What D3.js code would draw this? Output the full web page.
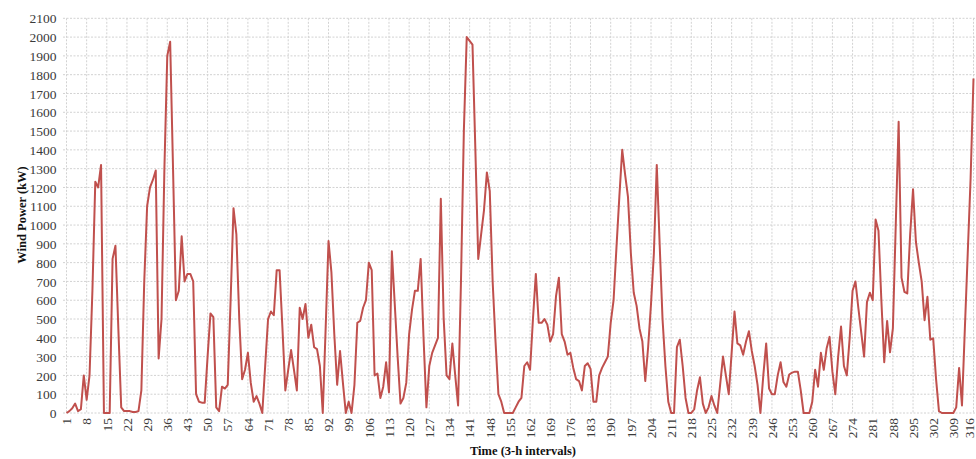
<!DOCTYPE html>
<html>
<head>
<meta charset="utf-8">
<script src="https://cdn.jsdelivr.net/npm/d3@7"></script>
<style>
  html, body { margin: 0; padding: 0; background: #ffffff; }
  svg { display: block; }
  text { font-family: "Liberation Serif", "Times New Roman", serif; }
</style>
</head>
<body>
<svg id="chart" width="976" height="459"></svg>
<script>
// Wind power output, one reading per 3-hour interval (kW)
const windPower = [
  0, 10, 25, 50, 10, 20, 200, 70, 200, 650,
  1230, 1200, 1320, 0, 0, 0, 820, 890, 450, 30,
  10, 10, 10, 5, 5, 10, 120, 700, 1100, 1200,
  1240, 1290, 290, 500, 1300, 1900, 1975, 1300, 600, 650,
  940, 700, 740, 740, 700, 100, 60, 55, 55, 300,
  530, 510, 30, 10, 140, 130, 150, 600, 1090, 950,
  500, 180, 230, 320, 160, 60, 90, 50, 0, 250,
  500, 540, 520, 760, 760, 450, 120, 230, 335, 230,
  120, 560, 500, 580, 400, 470, 350, 340, 250, 0,
  450, 915, 750, 420, 150, 330, 160, 0, 60, 0,
  150, 480, 490, 560, 600, 800, 760, 200, 210, 80,
  140, 270, 110, 860, 580, 300, 50, 80, 160, 420,
  550, 650, 650, 820, 400, 30, 250, 320, 360, 400,
  1140, 500, 200, 180, 370, 200, 40, 700, 1500, 2000,
  1980, 1960, 1400, 820, 950, 1080, 1280, 1180, 700, 380,
  100, 60, 0, 0, 0, 0, 30, 60, 80, 250,
  270, 230, 500, 740, 480, 480, 500, 470, 380, 420,
  620, 720, 420, 380, 310, 320, 240, 180, 170, 120,
  250, 265, 235, 60, 60, 200, 240, 270, 300, 480,
  600, 880, 1150, 1400, 1270, 1150, 850, 640, 570, 450,
  380, 170, 350, 580, 850, 1320, 900, 500, 250, 60,
  0, 0, 350, 390, 250, 80, 0, 0, 20, 120,
  190, 50, 0, 30, 90, 40, 0, 150, 300, 200,
  100, 320, 540, 370, 360, 310, 380, 435, 330, 250,
  150, 0, 200, 370, 130, 100, 100, 200, 270, 165,
  140, 205, 215, 220, 220, 120, 0, 0, 0, 60,
  230, 140, 320, 230, 345, 405, 220, 100, 300, 460,
  250, 200, 400, 650, 700, 560, 430, 300, 590, 640,
  600, 1030, 970, 600, 270, 490, 323, 450, 1000, 1550,
  720, 645, 636, 950, 1190, 910, 800, 700, 494, 618,
  390, 397, 180, 10, 0, 0, 0, 0, 0, 30,
  240, 40, 450, 850, 1250, 1780
];

// Interval numbers 1..N
const timeSteps = windPower.map((_, i) => i + 1);

// Labelled intervals on the time axis
const xTickLabels = [1, 8, 15, 22, 29, 36, 43, 50, 57, 64, 71, 78, 85, 92, 99, 106,
  113, 120, 127, 134, 141, 148, 155, 162, 169, 176, 183, 190, 197, 204, 211, 218,
  225, 232, 239, 246, 253, 260, 267, 274, 281, 288, 295, 302, 309, 316];

// Power axis ticks (kW)
const yTickValues = [0, 100, 200, 300, 400, 500, 600, 700, 800, 900, 1000, 1100,
  1200, 1300, 1400, 1500, 1600, 1700, 1800, 1900, 2000, 2100];

const width = 976;
const svg = d3.select("#chart");

const plot = { left: 63, right: width, top: 18.3, bottom: 413 };

const x = d3.scaleLinear()
  .domain([1, 316])
  .range([66.5, 973.5]);

const y = d3.scaleLinear()
  .domain([0, 2100])
  .range([plot.bottom, plot.top]);

// Horizontal grid
svg.append("g")
  .selectAll("line")
  .data(yTickValues)
  .join("line")
  .attr("x1", plot.left)
  .attr("x2", plot.right)
  .attr("y1", d => y(d))
  .attr("y2", d => y(d))
  .attr("stroke", "#d2d2d2")
  .attr("stroke-width", 1)
  .attr("stroke-dasharray", "2,1.5");

// Vertical grid
svg.append("g")
  .selectAll("line")
  .data(xTickLabels)
  .join("line")
  .attr("x1", d => x(d))
  .attr("x2", d => x(d))
  .attr("y1", plot.top)
  .attr("y2", plot.bottom)
  .attr("stroke", "#d2d2d2")
  .attr("stroke-width", 1)
  .attr("stroke-dasharray", "2,1.5");

// Y axis labels
const yAxis = d3.axisLeft(y)
  .tickValues(yTickValues)
  .tickSize(0)
  .tickPadding(0)
  .tickFormat(d3.format("d"));

svg.append("g")
  .attr("transform", `translate(56.5,0)`)
  .call(yAxis)
  .call(g => g.select(".domain").remove())
  .call(g => g.selectAll("text")
    .attr("fill", "#3a3a3a")
    .attr("font-size", "13.5px")
    .attr("font-family", "Liberation Serif, serif")
    .attr("dy", "0.34em"));

// X axis labels (rotated); the last one is nudged to stay inside the page
const xAxis = d3.axisBottom(x)
  .tickValues(xTickLabels)
  .tickSize(0)
  .tickPadding(0)
  .tickFormat(d3.format("d"));

svg.append("g")
  .attr("transform", `translate(0,${plot.bottom})`)
  .call(xAxis)
  .call(g => g.select(".domain").remove())
  .call(g => g.selectAll(".tick")
    .attr("transform", d => `translate(${Math.min(x(d), width - 6.5)},0)`))
  .call(g => g.selectAll("text")
    .attr("fill", "#3a3a3a")
    .attr("font-size", "13.5px")
    .attr("font-family", "Liberation Serif, serif")
    .attr("text-anchor", "end")
    .attr("transform", "rotate(-90)")
    .attr("x", -5)
    .attr("y", 0)
    .attr("dy", "0.35em"));

// Power series
const line = d3.line()
  .x((d, i) => x(timeSteps[i]))
  .y(d => y(d))
  .curve(d3.curveLinear);

svg.append("path")
  .datum(windPower)
  .attr("d", line)
  .attr("fill", "none")
  .attr("stroke", "#c0504d")
  .attr("stroke-width", 2)
  .attr("stroke-linejoin", "round");

// Axis titles
svg.append("text")
  .attr("x", 523)
  .attr("y", 455)
  .attr("text-anchor", "middle")
  .attr("font-size", "12.5px")
  .attr("font-weight", "bold")
  .attr("fill", "#111")
  .text("Time (3-h intervals)");

svg.append("text")
  .attr("transform", "translate(26,215) rotate(-90)")
  .attr("text-anchor", "middle")
  .attr("font-size", "12.5px")
  .attr("font-weight", "bold")
  .attr("fill", "#111")
  .text("Wind Power (kW)");
</script>
</body>
</html>
